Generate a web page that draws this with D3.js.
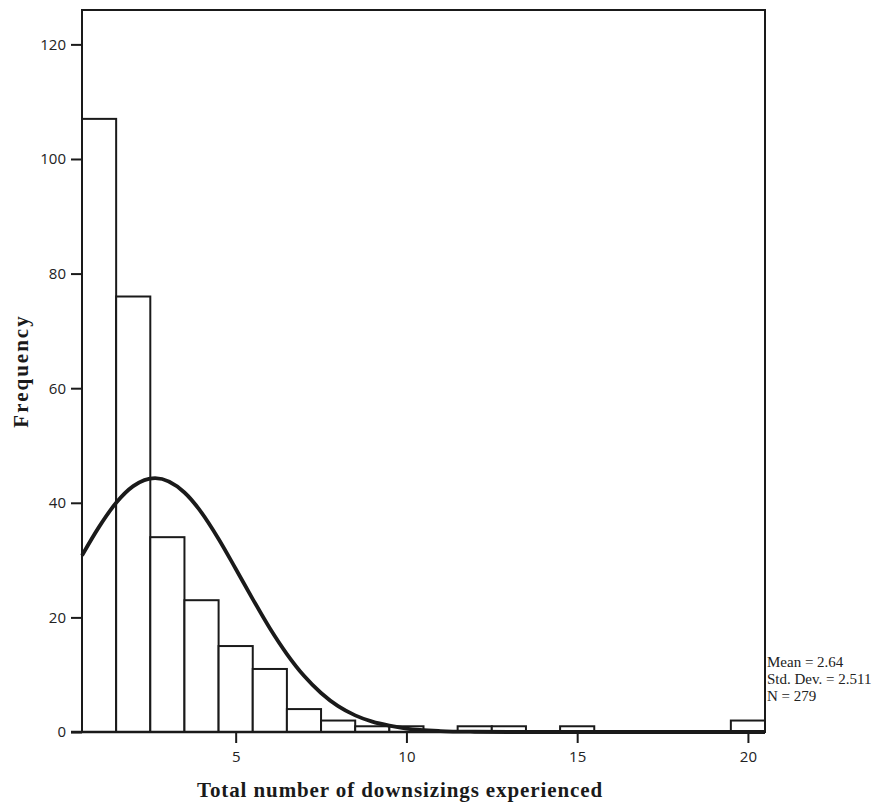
<!DOCTYPE html>
<html>
<head>
<meta charset="utf-8">
<script src="https://cdn.jsdelivr.net/npm/d3@7"></script>
<style>
  body { margin: 0; background: #fff; }
  svg { display: block; }
</style>
</head>
<body>
<svg id="chart" width="894" height="805"></svg>
<script>
// histogram bins (value = number of downsizings, bin width 1)
const binValues = [1, 2, 3, 4, 5, 6, 7, 8, 9, 10, 11, 12, 13, 14, 15, 16, 17, 18, 19, 20];
const binCounts = [107, 76, 34, 23, 15, 11, 4, 2, 1, 1, 0, 1, 1, 0, 1, 0, 0, 0, 0, 2];

// fitted curve
const curveX = [0.5, 1, 1.5, 2, 2.64, 3.5, 4, 4.5, 5, 5.5, 6, 6.5, 7, 7.5, 8, 8.5, 9, 9.5, 10, 11, 12, 13, 15, 20.5];
const curveY = [30.8, 35.8, 40, 42.9, 44.3, 41.8, 38.3, 33.7, 28.5, 23.2, 18.1, 13.6, 9.8, 6.8, 4.5, 2.9, 1.8, 1.1, 0.6, 0.17, 0.04, 0, 0, 0];

const xTicks = [5, 10, 15, 20];
const yTicks = [0, 20, 40, 60, 80, 100, 120];
const statLines = ["Mean = 2.64", "Std. Dev. = 2.511", "N = 279"];

var plotLeft = 82, plotRight = 765, plotTop = 10, plotBottom = 732;

var svg = d3.select("svg#chart");

var x = d3.scaleLinear().domain([0.5, 20.5]).range([plotLeft, plotRight]);
var y = d3.scaleLinear().domain([0, 126]).range([plotBottom, plotTop]);

// bars
var bars = binValues.map(function(v, i) { return { v: v, n: binCounts[i] }; })
  .filter(function(d) { return d.n > 0; });

svg.append("g")
  .selectAll("rect")
  .data(bars)
  .enter()
  .append("rect")
  .attr("x", function(d) { return x(d.v - 0.5); })
  .attr("y", function(d) { return y(d.n); })
  .attr("width", function(d) { return x(d.v + 0.5) - x(d.v - 0.5); })
  .attr("height", function(d) { return y(0) - y(d.n); })
  .attr("fill", "#fff")
  .attr("stroke", "#1a1a1a")
  .attr("stroke-width", 2);

// normal curve
var line = d3.line()
  .x(function(d) { return x(d[0]); })
  .y(function(d) { return y(Math.max(0, d[1])); })
  .curve(d3.curveMonotoneX);

svg.append("path")
  .datum(curveX.map(function(v, i) { return [v, curveY[i]]; }))
  .attr("d", line)
  .attr("fill", "none")
  .attr("stroke", "#1a1a1a")
  .attr("stroke-width", 3.8);

// frame: top, left, right
svg.append("path")
  .attr("d", "M" + plotLeft + "," + plotBottom + "V" + plotTop + "H" + plotRight + "V" + plotBottom)
  .attr("fill", "none")
  .attr("stroke", "#1a1a1a")
  .attr("stroke-width", 2);

// axes
var tickFont = "'Open Sans', 'Noto Sans', sans-serif";

var yAxis = svg.append("g")
  .attr("transform", "translate(" + plotLeft + ",0)")
  .call(d3.axisLeft(y).tickValues(yTicks).tickSize(11).tickPadding(5).tickFormat(d3.format("d")));
yAxis.select(".domain").remove();
yAxis.selectAll(".tick line").attr("stroke", "#1a1a1a").attr("stroke-width", 2);
yAxis.selectAll(".tick text")
  .style("font-family", tickFont)
  .style("font-size", "15px")
  .style("fill", "#222");

var xAxis = svg.append("g")
  .attr("transform", "translate(0," + plotBottom + ")")
  .call(d3.axisBottom(x).tickValues(xTicks).tickSize(11).tickPadding(8).tickFormat(d3.format("d")));
xAxis.select(".domain")
  .attr("d", "M" + (plotLeft - 11) + ",0H" + plotRight)
  .attr("stroke", "#1a1a1a")
  .attr("stroke-width", 2.5);
xAxis.selectAll(".tick line").attr("stroke", "#1a1a1a").attr("stroke-width", 2);
xAxis.selectAll(".tick text")
  .style("font-family", tickFont)
  .style("font-size", "15px")
  .style("fill", "#222");

// axis titles
svg.append("text")
  .text("Total number of downsizings experienced")
  .attr("x", 400)
  .attr("y", 797)
  .attr("text-anchor", "middle")
  .style("font-family", "'Liberation Serif', serif")
  .style("font-weight", "bold")
  .style("font-size", "21px")
  .style("letter-spacing", "0.9px")
  .style("fill", "#1a1a1a");

svg.append("text")
  .text("Frequency")
  .attr("transform", "translate(28,371) rotate(-90)")
  .attr("text-anchor", "middle")
  .style("font-family", "'Liberation Serif', serif")
  .style("font-weight", "bold")
  .style("font-size", "21px")
  .style("letter-spacing", "2px")
  .style("fill", "#1a1a1a");

// statistics
svg.append("g")
  .selectAll("text")
  .data(statLines)
  .enter()
  .append("text")
  .text(function(d) { return d; })
  .attr("x", plotRight + 2)
  .attr("y", function(d, i) { return 667 + i * 17; })
  .style("font-family", "'Liberation Serif', serif")
  .style("font-size", "15px")
  .style("fill", "#222");
</script>
</body>
</html>
